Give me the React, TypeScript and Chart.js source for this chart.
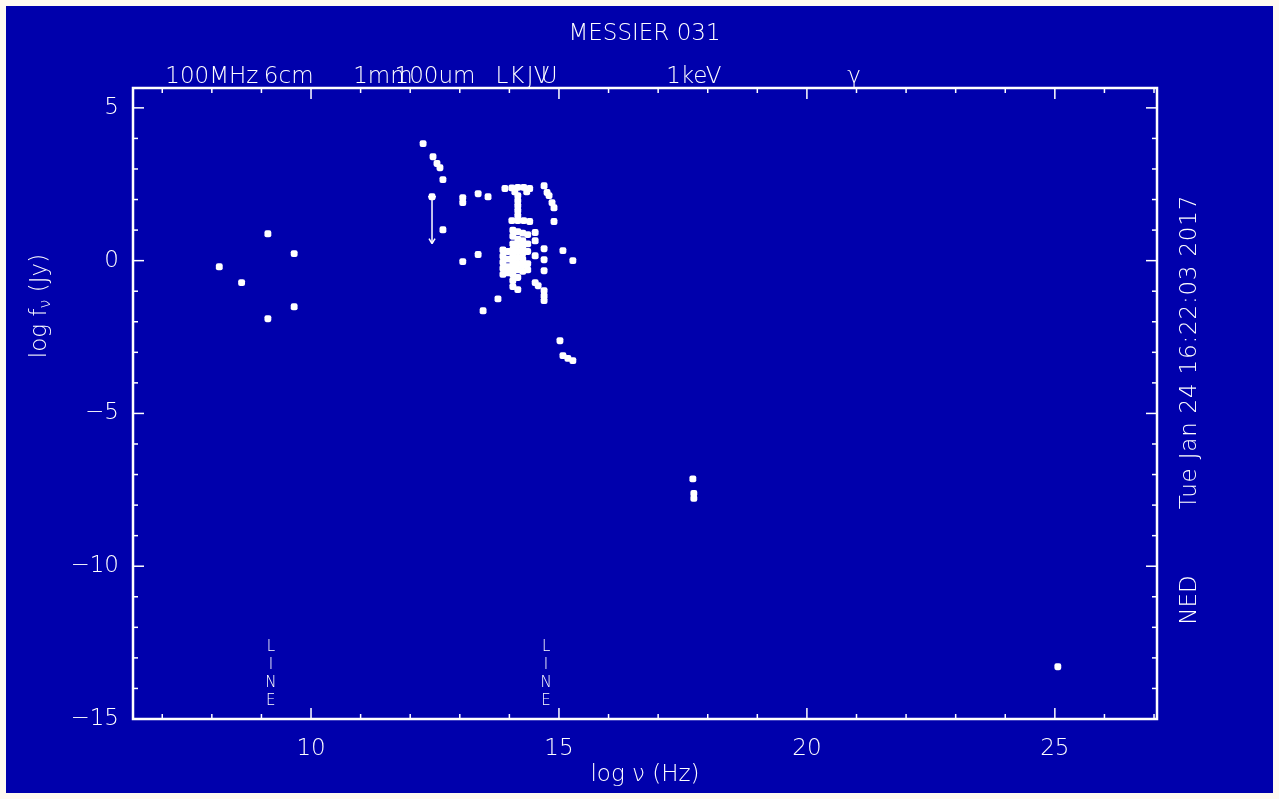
import React, { useEffect, useRef } from "react";
import { Chart, registerables } from "chart.js";

Chart.register(...registerables);

// ---- data (log frequency in Hz, log flux density in Jy) ----
const logNu = [
  8.15, 8.6, 9.13, 9.13, 9.66, 9.66,
  12.26, 12.46, 12.54, 12.6, 12.66, 12.66, 12.44,
  13.06, 13.06, 13.06, 13.37, 13.57, 13.37, 13.47, 13.77, 13.91,
  14.05, 14.17, 14.29, 14.41, 14.11, 14.35,
  14.17, 14.17, 14.17, 14.17, 14.17,
  14.05, 14.17, 14.29, 14.41,
  13.87, 13.87, 13.87, 13.87, 13.87,
  13.97, 13.97, 13.97, 13.97,
  14.07, 14.07, 14.07, 14.07, 14.07, 14.07, 14.07, 14.07, 14.07, 14.07,
  14.17, 14.17, 14.17, 14.17, 14.17, 14.17, 14.17, 14.17, 14.17,
  14.27, 14.27, 14.27, 14.27, 14.27, 14.27, 14.27,
  14.37, 14.37, 14.37, 14.37, 14.37,
  14.52, 14.52, 14.52,
  14.7, 14.76, 14.8, 14.86, 14.9, 14.9,
  14.7, 14.7, 14.7, 14.52, 14.58, 14.7, 14.7, 14.7,
  15.08, 15.28, 15.02, 15.08, 15.18, 15.28,
  17.7, 17.72, 17.72,
  25.06,
];
const logFlux = [
  -0.2, -0.72, 0.88, -1.9, 0.23, -1.51,
  3.83, 3.4, 3.18, 3.04, 2.65, 1.01, 2.09,
  2.06, 1.9, -0.03, 2.19, 2.09, 0.2, -1.64, -1.25, 2.36,
  2.38, 2.4, 2.4, 2.36, 2.25, 2.25,
  2.13, 1.96, 1.8, 1.64, 1.47,
  1.31, 1.31, 1.31, 1.28,
  0.35, 0.15, -0.05, -0.25, -0.45,
  0.3, 0.05, -0.2, -0.4,
  1.0, 0.8, 0.55, 0.35, 0.15, -0.05, -0.25, -0.45, -0.65, -0.85,
  0.95, 0.7, 0.5, 0.3, 0.1, -0.1, -0.3, -0.55, -0.95,
  0.9, 0.65, 0.45, 0.25, 0.05, -0.15, -0.35,
  0.85, 0.55, 0.3, -0.1, -0.3,
  0.92, 0.65, 0.16,
  2.45, 2.23, 2.13, 1.9, 1.73, 1.28,
  0.39, 0.03, -0.33, -0.72, -0.82, -0.98, -1.15, -1.31,
  0.33, 0.0, -2.62, -3.11, -3.2, -3.27,
  -7.14, -7.62, -7.78,
  -13.29,
];

// error bar (one measurement)
const errNu = [12.44];
const errHigh = [2.09];
const errLow = [0.56];

// axis ticks and labels
const xTickValues = [10, 15, 20, 25];
const yTickValues = [5, 0, -5, -10, -15];
const bandLabels = ["100MHz", "6cm", "1mm", "100um", "L", "K", "J", "V", "U", "1keV", "γ"];
const bandPos = [8.0, 9.55, 11.45, 12.5, 13.85, 14.15, 14.42, 14.65, 14.8, 17.72, 20.95];
const lineMarkPos = [9.19, 14.74];
const lineMarkText = ["L", "I", "N", "E"];

const X_MIN = 6.41;
const X_MAX = 27.06;
const Y_MIN = -15;
const Y_MAX = 5.65;

const BLUE = "rgb(0,0,172)";
const FAMILY = "DejaVu Sans";
const WEIGHT = "200";
const FS = 23;

const background = {
  id: "background",
  beforeDraw(chart: any) {
    const { ctx, width, height } = chart;
    ctx.save();
    ctx.fillStyle = "#fffaf0";
    ctx.fillRect(0, 0, width, height);
    ctx.fillStyle = BLUE;
    ctx.fillRect(6, 6, width - 12, height - 12);
    ctx.restore();
  },
};

const frame = {
  id: "frame",
  afterDraw(chart: any) {
    const { ctx } = chart;
    const { left, right, top, bottom } = chart.chartArea;
    const x = chart.scales.x;
    const y = chart.scales.y;
    ctx.save();
    ctx.strokeStyle = "#fff";
    ctx.fillStyle = "#fff";
    ctx.lineWidth = 2.5;
    ctx.strokeRect(left, top, right - left, bottom - top);
    ctx.lineWidth = 1.5;
    const seg = (x1: number, y1: number, x2: number, y2: number) => {
      ctx.beginPath();
      ctx.moveTo(x1, y1);
      ctx.lineTo(x2, y2);
      ctx.stroke();
    };
    for (let v = Math.ceil(x.min); v <= Math.floor(x.max); v++) {
      const px = x.getPixelForValue(v);
      const len = v % 5 === 0 ? 11 : 5;
      seg(px, bottom, px, bottom - len);
      seg(px, top, px, top + len);
    }
    for (let v = Math.ceil(y.min); v <= Math.floor(y.max); v++) {
      const py = y.getPixelForValue(v);
      const len = v % 5 === 0 ? 11 : 5;
      seg(left, py, left + len, py);
      seg(right, py, right - len, py);
    }

    // error bars
    ctx.lineWidth = 1.5;
    errNu.forEach((nu, i) => {
      const px = x.getPixelForValue(nu);
      const p1 = y.getPixelForValue(errHigh[i]);
      const p2 = y.getPixelForValue(errLow[i]);
      seg(px, p1, px, p2);
      seg(px - 3, p2 - 5, px, p2);
      seg(px + 3, p2 - 5, px, p2);
      seg(px - 4, p1, px + 4, p1);
    });

    // LINE markers
    ctx.font = `${WEIGHT} 15px "${FAMILY}"`;
    ctx.textAlign = "center";
    ctx.textBaseline = "middle";
    lineMarkPos.forEach((nu) => {
      const px = x.getPixelForValue(nu);
      lineMarkText.forEach((ch, k) => {
        ctx.fillText(ch, px, 647 + k * 18);
      });
    });

    // y axis title with subscript
    ctx.font = `${WEIGHT} ${FS}px "${FAMILY}"`;
    ctx.save();
    ctx.translate(40, 306);
    ctx.rotate(-Math.PI / 2);
    const a = "log f";
    const b = "ν";
    const c = " (Jy)";
    const wa = ctx.measureText(a).width;
    ctx.font = `${WEIGHT} 16px "${FAMILY}"`;
    const wb = ctx.measureText(b).width;
    ctx.font = `${WEIGHT} ${FS}px "${FAMILY}"`;
    const wc = ctx.measureText(c).width;
    let sx = -(wa + wb + wc) / 2;
    ctx.textAlign = "left";
    ctx.fillText(a, sx, 0);
    sx += wa;
    ctx.font = `${WEIGHT} 16px "${FAMILY}"`;
    ctx.fillText(b, sx, 6);
    sx += wb;
    ctx.font = `${WEIGHT} ${FS}px "${FAMILY}"`;
    ctx.fillText(c, sx, 0);
    ctx.restore();

    // right side texts
    ctx.save();
    (ctx as any).letterSpacing = "0.8px";
    ctx.translate(1190, 352);
    ctx.rotate(-Math.PI / 2);
    ctx.textAlign = "center";
    ctx.fillText("Tue Jan 24 16:22:03 2017", 0, 0);
    ctx.restore();
    ctx.save();
    ctx.translate(1190, 600);
    ctx.rotate(-Math.PI / 2);
    ctx.textAlign = "center";
    ctx.fillText("NED", 0, 0);
    ctx.restore();

    ctx.restore();
  },
};

const font = { family: FAMILY, size: FS, weight: WEIGHT as any };
const fmt = (v: number) => (v < 0 ? "−" + Math.abs(v) : String(v));

export default function App() {
  const ref = useRef<HTMLCanvasElement>(null);
  useEffect(() => {
    if (!ref.current) return;
    Chart.defaults.color = "#fff";
    const points = logNu.map((v, i) => ({ x: v, y: logFlux[i] }));
    const chart = new Chart(ref.current, {
      type: "scatter",
      data: {
        datasets: [
          {
            data: points,
            xAxisID: "x",
            yAxisID: "y",
            backgroundColor: "#fff",
            borderWidth: 0,
            pointStyle: "rectRounded",
            pointRadius: 4,
            pointHoverRadius: 4,
          },
        ],
      },
      options: {
        animation: false,
        responsive: false,
        devicePixelRatio: 1,
        events: [],
        layout: { padding: { left: 10, right: 0, top: 0, bottom: 0 } },
        plugins: {
          legend: { display: false },
          tooltip: { enabled: false },
          title: {
            display: true,
            text: "MESSIER 031",
            color: "#fff",
            font,
            padding: { top: 20, bottom: 10.4 },
          },
        },
        scales: {
          x: {
            type: "linear",
            position: "bottom",
            min: X_MIN,
            max: X_MAX,
            grid: { display: false, drawTicks: false },
            border: { display: false },
            afterBuildTicks: (s: any) => {
              s.ticks = xTickValues.map((v) => ({ value: v }));
            },
            afterFit: (s: any) => {
              s.height = 80;
            },
            ticks: {
              color: "#fff",
              font,
              padding: 16,
              maxRotation: 0,
              minRotation: 0,
              autoSkip: false,
              callback: (v: any) => fmt(Number(v)),
            },
            title: {
              display: true,
              text: "log ν (Hz)",
              color: "#fff",
              font,
              padding: { top: 0, bottom: 10 },
            },
          },
          xTop: {
            type: "linear",
            position: "top",
            min: X_MIN,
            max: X_MAX,
            grid: { display: false, drawTicks: false },
            border: { display: false },
            afterBuildTicks: (s: any) => {
              s.ticks = bandPos.map((v) => ({ value: v }));
            },
            afterFit: (s: any) => {
              s.height = 30;
            },
            ticks: {
              color: "#fff",
              font,
              padding: -3,
              maxRotation: 0,
              minRotation: 0,
              autoSkip: false,
              callback: (_v: any, i: number) => bandLabels[i],
            },
          },
          y: {
            type: "linear",
            position: "left",
            min: Y_MIN,
            max: Y_MAX,
            grid: { display: false, drawTicks: false },
            border: { display: false },
            afterBuildTicks: (s: any) => {
              s.ticks = yTickValues.map((v) => ({ value: v }));
            },
            afterFit: (s: any) => {
              s.width = 123;
            },
            ticks: {
              color: "#fff",
              font,
              padding: 14,
              autoSkip: false,
              callback: (v: any) => fmt(Number(v)),
            },
          },
          yRight: {
            type: "linear",
            position: "right",
            min: Y_MIN,
            max: Y_MAX,
            grid: { display: false, drawTicks: false },
            border: { display: false },
            ticks: { display: false },
            afterFit: (s: any) => {
              s.width = 122;
            },
          },
        },
      } as any,
      plugins: [background, frame],
    });
    return () => chart.destroy();
  }, []);
  return (
    <div style={{ position: "fixed", left: 0, top: 0, width: 1279, height: 799 }}>
      <canvas ref={ref} width={1279} height={799} style={{ display: "block", width: 1279, height: 799 }} />
    </div>
  );
}
